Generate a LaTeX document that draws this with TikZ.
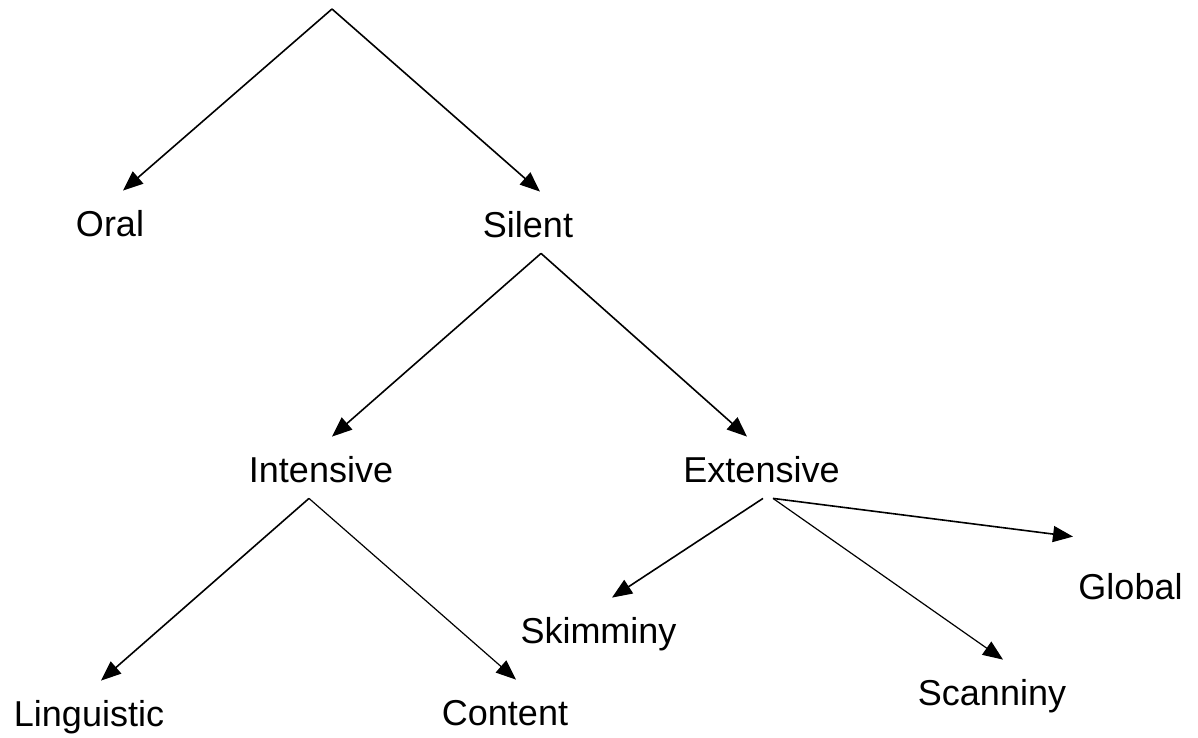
\documentclass[tikz,border=0pt]{standalone}
\usepackage{fontspec}
\setmainfont{Liberation Sans}
\usetikzlibrary{arrows.meta}
\begin{document}
\begin{tikzpicture}[x=0.5pt,y=-0.5pt]
% look of the words
\tikzstyle{term}=[inner xsep=2pt, inner ysep=6pt, text height=16.5pt, text depth=2pt, anchor=base, font=\fontsize{18pt}{22pt}\selectfont]
% look of the arrows
\tikzstyle{link}=[-{Triangle[length=10pt,width=8pt]}, line width=0.8pt]
\tikzstyle{thinlink}=[link, line width=0.6pt]
\useasboundingbox (0,0) rectangle (1198,738);
% words of the tree
\coordinate (root) at (332,9);
\node[term] (oral) at (110,236) {Oral};
\node[term] (silent) at (528,237) {Silent};
\node[term] (intensive) at (321,482) {Intensive};
\node[term] (extensive) at (761.5,482) {Extensive};
\node[term] (linguistic) at (89,726) {Linguistic};
\node[term] (content) at (505,725) {Content};
\node[term] (skimminy) at (598.5,643) {Skimminy};
\node[term] (scanniny) at (992,705) {Scanniny};
\node[term] (global) at (1130.5,599) {Global};
% arrows between them
\draw[link] (root) -- ([xshift=6.5pt]oral.north);
\draw[link] (root) -- ([xshift=6pt]silent.north);
\draw[link] ([xshift=6.5pt]silent.south) -- ([xshift=5.5pt]intensive.north);
\draw[link] ([xshift=6.5pt]silent.south) -- ([xshift=-7.25pt]extensive.north);
\draw[link] ([xshift=-6pt]intensive.south) -- ([xshift=6pt]linguistic.north);
\draw[thinlink] ([xshift=-6pt]intensive.south) -- ([xshift=5.5pt]content.north);
\draw[link] ([xshift=0.75pt]extensive.south) -- ([xshift=6.75pt]skimminy.north);
\draw[thinlink] ([xshift=5.75pt]extensive.south) -- ([xshift=5.5pt]scanniny.north);
\draw[link] ([xshift=5.75pt]extensive.south) -- ([xshift=-28.75pt,yshift=8.5pt]global.north);
\end{tikzpicture}
\end{document}
